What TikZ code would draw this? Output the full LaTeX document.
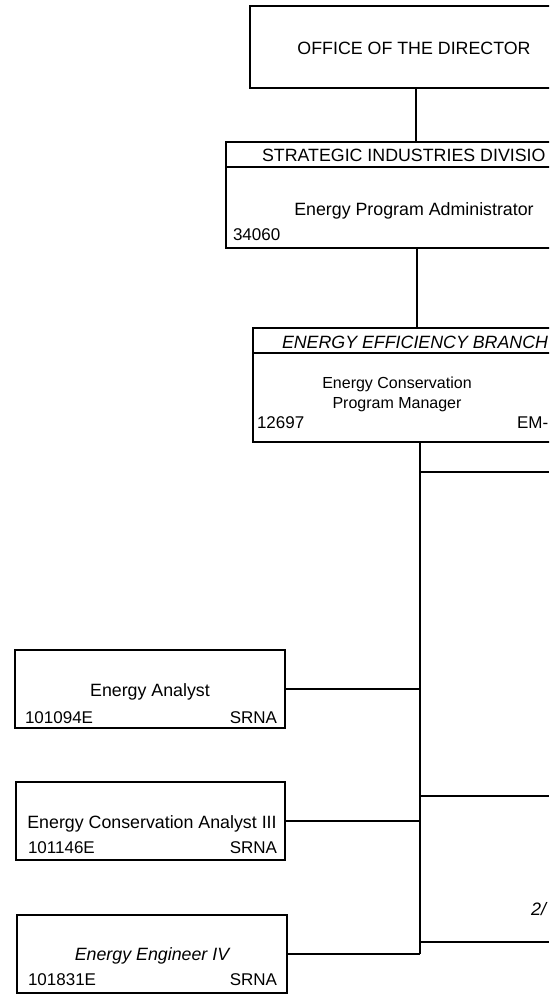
\documentclass[tikz,border=0pt]{standalone}
\usepackage{fontspec}
\setmainfont{Liberation Sans}
\begin{document}
\begin{tikzpicture}[x=1pt,y=-1pt,
  box/.style={draw, line width=1.1pt, rectangle, inner sep=0pt, outer sep=0pt, anchor=north west},
  txt/.style={inner sep=0pt, outer sep=0pt, anchor=base, font=\fontsize{17.8}{20}\selectfont},
  txtl/.style={txt, anchor=base west},
  txtr/.style={txt, anchor=base east},
  small/.style={font=\fontsize{16}{18}\selectfont},
  num/.style={font=\fontsize{17}{19}\selectfont},
  conn/.style={line width=1.1pt}]
\useasboundingbox (0,0) rectangle (549,996);
\clip (0,0) rectangle (549,996);

% boxes
\node[box, minimum width=340pt, minimum height=82pt] (dir) at (250,6) {};
\node[box, minimum width=380pt, minimum height=106pt] (sid) at (226,142) {};
\node[box, minimum width=360pt, minimum height=114pt] (efb) at (253,328) {};
\node[box, minimum width=270pt, minimum height=78pt] (ea) at (15,650) {};
\node[box, minimum width=269pt, minimum height=78pt] (eca) at (16,782) {};
\node[box, minimum width=270pt, minimum height=78pt] (ee) at (17,915) {};

% header dividers
\draw[conn] (sid.north west) ++(0,25) -- ++(400,0);
\draw[conn] (efb.north west) ++(0,25) -- ++(400,0);

% texts
\node[txt] (dirt) at (414,54) {OFFICE OF THE DIRECTOR};
\node[txtl] (sidh) at (262,161) {STRATEGIC INDUSTRIES DIVISIO};
\node[txt] (sidt) at (414,215) {Energy Program Administrator};
\node[txtl, num] (sidn) at (233,240) {34060};

\node[txtl, font=\fontsize{17.8}{20}\selectfont\itshape] (efbh) at (282,348) {ENERGY EFFICIENCY BRANCH};
\node[txt, small] (efbt1) at (397,388) {Energy Conservation};
\node[txt, small] (efbt2) at (397,408) {Program Manager};
\node[txtl, num] (efbn) at (257,428) {12697};
\node[txtl, num] (efbc) at (517,428) {EM-};

\node[txt] (eat) at (150,696) {Energy Analyst};
\node[txtl, num] (ean) at (25,723) {101094E};
\node[txtr, num] (eac) at (277,723) {SRNA};

\node[txt] (ecat) at (152,828) {Energy Conservation Analyst III};
\node[txtl, num] (ecan) at (28,853) {101146E};
\node[txtr, num] (ecac) at (277,853) {SRNA};

\node[txt, font=\fontsize{17.8}{20}\selectfont\itshape] (eet) at (152,960) {Energy Engineer IV};
\node[txtl, num] (een) at (28,985) {101831E};
\node[txtr, num] (eec) at (277,985) {SRNA};

\node[txtl, font=\fontsize{18}{20}\selectfont\itshape] (note) at (531,915) {2/};

% connectors
\coordinate (t1) at (416,0);
\coordinate (t2) at (417,0);
\coordinate (t3) at (420,0);
\coordinate (r1) at (549,472);
\coordinate (r2) at (549,796);
\coordinate (r3) at (549,942);

\draw[conn] (dir.south -| t1) -- (sid.north -| t1);
\draw[conn] (sid.south -| t2) -- (efb.north -| t2);
\draw[conn] (efb.south -| t3) -- (t3 |- ee.east);
\draw[conn] (ea.east) -- (ea.east -| t3);
\draw[conn] (eca.east) -- (eca.east -| t3);
\draw[conn] (ee.east) -- (ee.east -| t3);
\draw[conn] (r1 -| t3) -- (r1);
\draw[conn] (r2 -| t3) -- (r2);
\draw[conn] (r3 -| t3) -- (r3);
\end{tikzpicture}
\end{document}
